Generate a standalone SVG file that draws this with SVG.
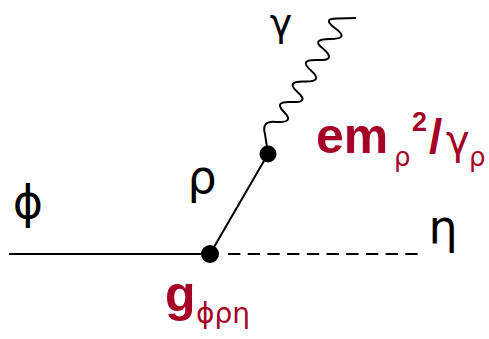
<svg xmlns="http://www.w3.org/2000/svg" width="489" height="339" viewBox="0 0 489 339">
<style>
.ln{stroke:#000;stroke-width:2;fill:none}
.gk{font-family:"DejaVu Sans","Liberation Sans",sans-serif;fill:#000}
.rd{font-family:"Liberation Sans","DejaVu Sans",sans-serif;fill:#a50026}
.rg{font-family:"DejaVu Sans","Liberation Sans",sans-serif}
.b{font-weight:bold}
</style>
<rect width="489" height="339" fill="#fff"/>
<g id="connectors">
<line class="ln" x1="9" y1="254" x2="210" y2="254"/>
<line class="ln" x1="228" y1="254" x2="418" y2="254" stroke-dasharray="12.4 7.3"/>
<line class="ln" x1="210" y1="254" x2="268" y2="154"/>
<path class="ln" stroke-linejoin="round" d="M268 154 L265 134 Q261 120 276.5 122 Q295 123 284 112 Q273 101 291.5 102 Q310 103 297.5 92 Q285 81 304.5 81.5 Q324 82 311 70.5 Q298 59 317.5 60 Q337 61 323.5 49 Q310 39 330 39 Q350 39 335.5 28.5 Q321 18 338 18.5 L356 18"/>
</g>
<g id="vertex1"><circle cx="210" cy="254" r="9" fill="#000"/></g>
<g id="vertex2"><circle cx="268" cy="154" r="8.5" fill="#000"/></g>
<g id="label-phi"><text class="gk" x="28" y="218" font-size="46" text-anchor="middle">ϕ</text></g>
<g id="label-rho"><text class="gk" x="202" y="193" font-size="46" text-anchor="middle">ρ</text></g>
<g id="label-gamma"><text class="gk" x="281" y="35.5" font-size="38" text-anchor="middle">γ</text></g>
<g id="label-eta"><text class="gk" x="443" y="243" font-size="46" text-anchor="middle">η</text></g>
<g id="label-coupling1">
<text class="rd"><tspan class="b" x="316" y="153" font-size="50">em</tspan><tspan class="rg" x="394" y="166" font-size="26">ρ</tspan><tspan class="b" x="412" y="131" font-size="27">2</tspan><tspan class="b" x="429" y="153" font-size="48">/</tspan><tspan class="rg" x="446" y="154" font-size="40">γ</tspan><tspan class="rg" x="469" y="166" font-size="26">ρ</tspan></text>
</g>
<g id="label-coupling2">
<text class="rd"><tspan class="b" x="165" y="311" font-size="50">g</tspan><tspan class="rg" x="196" y="323" font-size="28">ϕρη</tspan></text>
</g>
</svg>
